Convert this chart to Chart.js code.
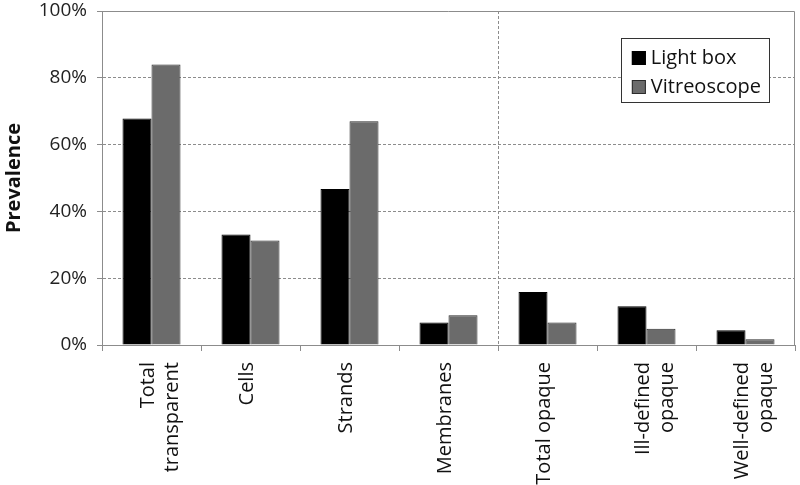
<!DOCTYPE html>
<html>
<head>
<meta charset="utf-8">
<script src="https://cdn.jsdelivr.net/npm/chart.js@4.4.1/dist/chart.umd.min.js"></script>
<style>
  html, body { margin: 0; padding: 0; background: #ffffff; }
  #wrap { width: 800px; height: 485px; }
</style>
</head>
<body>
<div id="wrap"><canvas id="prevChart" width="800" height="485"></canvas></div>
<script>
// categorias y valores (%)
const categories = [
    ['Total', 'transparent'],
    'Cells',
    'Strands',
    'Membranes',
    'Total opaque',
    ['Ill-defined', 'opaque'],
    ['Well-defined', 'opaque']
];
const lightBox = [67.8, 33.1, 46.7, 6.7, 15.9, 11.6, 4.4];
const vitreoscope = [84.0, 31.3, 67.0, 8.9, 6.7, 4.9, 1.7];
const yTicks = [0, 20, 40, 60, 80, 100];

const FONT = "'Open Sans', 'Noto Sans', sans-serif";
const GRID = '#8c8c8c';

// marco superior y derecho del area de trazado
const framePlugin = {
    id: 'frame',
    afterDraw(chart) {
        const { ctx, chartArea: a } = chart;
        ctx.save();
        ctx.strokeStyle = GRID;
        ctx.lineWidth = 1;
        ctx.beginPath();
        ctx.moveTo(a.left, a.top + 0.5);
        ctx.lineTo(a.right - 0.5, a.top + 0.5);
        ctx.lineTo(a.right - 0.5, a.bottom);
        ctx.stroke();
        ctx.restore();
    }
};

// leyenda con recuadro dentro del area (arriba a la derecha)
const boxLegend = {
    id: 'boxLegend',
    afterDraw(chart) {
        const { ctx, chartArea: a } = chart;
        const sets = chart.data.datasets;
        ctx.save();
        ctx.font = '20px ' + FONT;
        const textW = Math.max(...sets.map(d => ctx.measureText(d.label).width));
        const w = 11 + 14 + 5 + textW + 8;
        const h = 64;
        const x = a.right - 26 - w;
        const y = a.top + 27;
        ctx.fillStyle = '#ffffff';
        ctx.fillRect(x, y, w, h);
        ctx.strokeStyle = '#333333';
        ctx.lineWidth = 1;
        ctx.strokeRect(Math.round(x) + 0.5, Math.round(y) + 0.5, Math.round(w), h);
        sets.forEach((d, i) => {
            const cy = y + 19 + i * 29;
            ctx.fillStyle = d.backgroundColor;
            ctx.fillRect(x + 11, cy - 6, 14, 14);
            ctx.strokeStyle = d.borderColor;
            ctx.strokeRect(x + 11.5, cy - 5.5, 13, 13);
            ctx.fillStyle = '#111111';
            ctx.textBaseline = 'middle';
            ctx.fillText(d.label, x + 11 + 14 + 5, cy + 1);
        });
        ctx.restore();
    }
};

new Chart(document.getElementById('prevChart'), {
    type: 'bar',
    data: {
        labels: categories,
        datasets: [
            {
                label: 'Light box',
                data: lightBox,
                backgroundColor: '#000000',
                borderColor: '#000000',
                borderWidth: 1
            },
            {
                label: 'Vitreoscope',
                data: vitreoscope,
                backgroundColor: '#6b6b6b',
                borderColor: '#2b2b2b',
                borderWidth: 1
            }
        ]
    },
    options: {
        responsive: false,
        animation: false,
        layout: { padding: { top: 11, right: 5, left: 0, bottom: 0 } },
        datasets: {
            bar: { categoryPercentage: 0.586, barPercentage: 1.0 }
        },
        plugins: {
            legend: { display: false },
            tooltip: { enabled: false }
        },
        scales: {
            x: {
                afterFit(scale) {
                    scale.height = 140;
                    scale.paddingLeft = 0;
                    scale.paddingRight = 0;
                },
                border: { display: true, color: GRID, width: 1, dash: [3, 2] },
                grid: {
                    offset: true,
                    color: c => (c.index === 4 ? GRID : 'transparent'),
                    tickColor: GRID,
                    tickLength: 6,
                    tickBorderDash: []
                },
                ticks: {
                    minRotation: 90,
                    maxRotation: 90,
                    autoSkip: false,
                    padding: 11,
                    labelOffset: -3,
                    color: '#111111',
                    font: { family: FONT, size: 20, lineHeight: 1.2 }
                }
            },
            y: {
                min: 0,
                max: 100,
                afterFit(scale) {
                    scale.width = 102;
                    scale.paddingTop = 0;
                    scale.paddingBottom = 0;
                },
                afterBuildTicks(scale) { scale.ticks = yTicks.map(v => ({ value: v })); },
                border: { display: true, color: GRID, width: 1, dash: [3, 2] },
                grid: {
                    color: c => (c.tick && (c.tick.value === 0 || c.tick.value === 100) ? 'transparent' : GRID),
                    tickColor: GRID,
                    tickLength: 5,
                    tickBorderDash: []
                },
                ticks: {
                    padding: 10,
                    color: '#222222',
                    font: { family: FONT, size: 19 },
                    callback: v => v + '%'
                },
                title: {
                    display: true,
                    text: 'Prevalence',
                    color: '#111111',
                    padding: { top: 2, bottom: 0 },
                    font: { family: FONT, size: 20, weight: 'bold' }
                }
            }
        }
    },
    plugins: [framePlugin, boxLegend]
});
</script>
</body>
</html>
